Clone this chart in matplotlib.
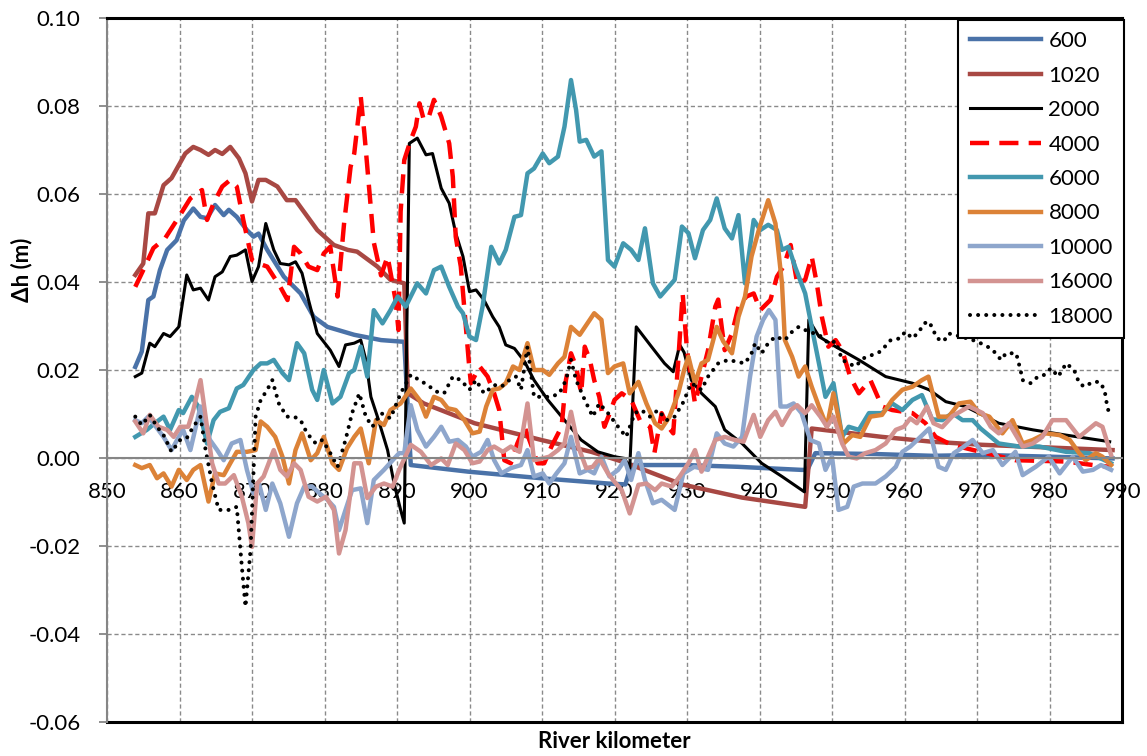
import numpy as np
import matplotlib
matplotlib.use('Agg')
import matplotlib.pyplot as plt
from matplotlib.lines import Line2D
from matplotlib.ticker import FormatStrFormatter

plt.rcParams['font.family'] = ['Lato', 'DejaVu Sans']

# discharge 600
km_600 = [853.9, 854.8, 855.7, 856.4, 857.3, 858.3, 859.6, 860.6, 861.9, 862.9, 863.8, 864.9,
          866.1, 866.8, 867.9, 869.3, 870.2, 870.9, 872.1, 874.4, 876.7, 878.5, 880.4, 884.1,
          887.8, 891.0, 891.9, 899.8, 909.9, 919.1, 921.5, 922.3, 929.7, 937.0, 945.8, 946.6,
          947.7, 956.0, 963.8, 970.7, 980.0, 988.7]
dh_600 = [0.0207, 0.0242, 0.0359, 0.0367, 0.0427, 0.0473, 0.0495, 0.0540, 0.0567, 0.0548, 0.0545, 0.0575,
          0.0552, 0.0564, 0.0548, 0.0518, 0.0503, 0.0510, 0.0473, 0.0412, 0.0374, 0.0321, 0.0298, 0.0280,
          0.0268, 0.0264, -0.0016, -0.0031, -0.0046, -0.0058, -0.0060, -0.0016, -0.0016, -0.0020, -0.0027, -0.0027,
          0.0011, 0.0009, 0.0005, 0.0007, 0.0003, -0.0001]

# discharge 1020
km_1020 = [853.9, 855.0, 855.7, 856.6, 857.8, 858.9, 860.8, 861.9, 862.9, 864.0, 864.9, 865.9,
           867.0, 868.2, 869.1, 870.0, 870.9, 871.9, 873.5, 874.8, 876.0, 879.0, 881.3, 883.2,
           884.5, 887.3, 889.1, 891.0, 891.5, 893.7, 900.7, 909.9, 916.8, 921.4, 929.3, 937.6,
           946.3, 947.2, 956.9, 963.8, 970.7, 988.7]
dh_1020 = [0.0416, 0.0442, 0.0556, 0.0556, 0.0620, 0.0636, 0.0692, 0.0707, 0.0700, 0.0689, 0.0700, 0.0691,
           0.0707, 0.0681, 0.0647, 0.0583, 0.0632, 0.0632, 0.0617, 0.0586, 0.0586, 0.0518, 0.0484, 0.0473,
           0.0469, 0.0435, 0.0405, 0.0397, 0.0147, 0.0124, 0.0079, 0.0041, 0.0014, -0.0010, -0.0060, -0.0090,
           -0.0111, 0.0067, 0.0048, 0.0037, 0.0030, 0.0018]

# discharge 2000
km_2000 = [853.9, 854.8, 855.9, 856.6, 857.8, 858.7, 859.9, 861.0, 861.9, 862.9, 864.0, 864.9,
           865.9, 867.0, 867.9, 869.1, 870.0, 870.9, 871.9, 873.0, 873.9, 875.1, 876.0, 876.9,
           877.8, 879.0, 880.8, 882.0, 882.9, 884.1, 885.0, 885.7, 886.4, 887.3, 888.7, 889.6,
           890.5, 891.0, 891.7, 892.8, 894.0, 894.9, 896.1, 897.2, 898.1, 899.1, 900.0, 900.9,
           902.0, 903.2, 904.1, 905.0, 906.2, 907.6, 908.9, 910.8, 913.1, 915.4, 917.7, 920.0,
           921.4, 922.1, 923.0, 925.1, 926.9, 928.1, 929.0, 929.6, 930.6, 932.0, 933.9, 935.2,
           937.6, 940.3, 943.1, 946.2, 946.8, 948.2, 950.5, 953.7, 957.4, 961.1, 963.4, 965.7,
           968.4, 973.0, 977.7, 982.3, 988.3]
dh_2000 = [0.0185, 0.0193, 0.0261, 0.0253, 0.0283, 0.0276, 0.0298, 0.0416, 0.0382, 0.0386, 0.0359, 0.0412,
           0.0423, 0.0458, 0.0461, 0.0473, 0.0401, 0.0435, 0.0533, 0.0473, 0.0442, 0.0439, 0.0446, 0.0420,
           0.0359, 0.0283, 0.0245, 0.0208, 0.0257, 0.0261, 0.0268, 0.0223, 0.0139, 0.0094, 0.0018, -0.0058,
           -0.0118, -0.0148, 0.0715, 0.0727, 0.0689, 0.0692, 0.0613, 0.0579, 0.0511, 0.0458, 0.0378, 0.0382,
           0.0359, 0.0321, 0.0298, 0.0257, 0.0249, 0.0219, 0.0177, 0.0132, 0.0086, 0.0041, 0.0014, 0.0003,
           -0.0001, -0.0023, 0.0298, 0.0253, 0.0215, 0.0196, 0.0257, 0.0240, 0.0177, 0.0147, 0.0117, 0.0064,
           0.0033, -0.0012, -0.0042, -0.0077, 0.0314, 0.0276, 0.0253, 0.0223, 0.0185, 0.0170, 0.0155, 0.0128,
           0.0117, 0.0079, 0.0064, 0.0052, 0.0037]

# discharge 4000
km_4000 = [853.9, 855.0, 856.4, 858.0, 859.8, 861.5, 863.1, 863.8, 864.7, 865.9, 867.0, 867.9,
           868.8, 870.0, 870.9, 872.1, 873.9, 874.9, 875.8, 876.7, 877.8, 879.0, 879.9, 880.8,
           881.8, 882.7, 883.6, 884.1, 885.0, 885.5, 885.9, 886.8, 887.8, 888.7, 889.8, 890.2,
           890.5, 891.0, 891.9, 892.6, 893.1, 893.7, 894.4, 895.1, 896.1, 897.2, 897.7, 898.1,
           898.8, 899.5, 900.0, 900.2, 901.4, 902.5, 903.4, 904.1, 904.8, 905.7, 906.6, 907.6,
           908.5, 909.4, 910.3, 911.3, 912.7, 913.3, 914.0, 914.7, 915.4, 915.9, 916.6, 917.2,
           917.9, 918.6, 919.3, 920.0, 921.0, 922.3, 923.5, 924.9, 925.5, 926.5, 927.4, 928.1,
           928.8, 929.4, 930.0, 931.1, 932.0, 932.9, 933.9, 934.3, 935.2, 936.2, 937.1, 938.2,
           939.2, 940.1, 941.5, 942.4, 943.3, 944.3, 945.2, 946.3, 947.2, 947.9, 948.6, 949.5,
           950.5, 951.4, 952.5, 953.7, 955.3, 956.9, 958.3, 961.1, 962.9, 964.3, 966.1, 967.5,
           975.3, 982.3, 986.0, 988.3]
dh_4000 = [0.0389, 0.0427, 0.0477, 0.0499, 0.0545, 0.0590, 0.0609, 0.0541, 0.0579, 0.0617, 0.0632, 0.0617,
           0.0541, 0.0450, 0.0442, 0.0435, 0.0389, 0.0359, 0.0480, 0.0465, 0.0435, 0.0427, 0.0465, 0.0480,
           0.0367, 0.0533, 0.0662, 0.0692, 0.0821, 0.0738, 0.0662, 0.0490, 0.0415, 0.0458, 0.0359, 0.0291,
           0.0560, 0.0677, 0.0723, 0.0753, 0.0806, 0.0768, 0.0776, 0.0814, 0.0776, 0.0715, 0.0639, 0.0503,
           0.0435, 0.0298, 0.0200, 0.0170, 0.0208, 0.0185, 0.0147, 0.0109, -0.0005, -0.0012, 0.0033, 0.0071,
           0.0030, -0.0012, -0.0012, 0.0026, 0.0071, 0.0177, 0.0238, 0.0208, 0.0147, 0.0253, 0.0223, 0.0177,
           0.0139, 0.0071, 0.0100, 0.0132, 0.0147, 0.0132, 0.0086, 0.0071, 0.0011, 0.0102, 0.0071, 0.0056,
           0.0223, 0.0374, 0.0245, 0.0124, 0.0185, 0.0245, 0.0344, 0.0360, 0.0245, 0.0283, 0.0344, 0.0367,
           0.0374, 0.0336, 0.0359, 0.0412, 0.0435, 0.0484, 0.0397, 0.0405, 0.0458, 0.0397, 0.0321, 0.0253,
           0.0268, 0.0245, 0.0185, 0.0147, 0.0177, 0.0117, 0.0109, 0.0102, 0.0079, 0.0048, 0.0033, 0.0026,
           -0.0005, -0.0008, -0.0016, -0.0020]

# discharge 6000
km_6000 = [853.9, 855.5, 856.6, 857.8, 858.7, 859.9, 860.5, 861.7, 862.6, 863.8, 864.7, 865.6,
           866.8, 867.9, 868.8, 870.2, 871.2, 872.1, 873.0, 874.2, 875.1, 876.2, 877.2, 878.3,
           879.0, 879.9, 881.1, 882.2, 883.4, 884.1, 885.0, 885.9, 886.8, 888.0, 889.1, 890.1,
           891.2, 892.8, 894.0, 895.1, 896.1, 897.2, 898.4, 899.1, 900.0, 900.9, 901.8, 903.0,
           904.1, 905.0, 906.2, 907.1, 908.0, 908.9, 910.1, 911.0, 912.2, 913.1, 914.0, 914.7,
           915.2, 916.1, 917.2, 918.2, 919.1, 920.0, 921.2, 922.3, 923.3, 924.2, 925.3, 926.3,
           928.3, 929.3, 930.2, 931.1, 932.2, 933.2, 934.1, 935.2, 936.2, 937.1, 938.0, 939.2,
           940.1, 941.2, 942.4, 943.1, 944.0, 944.9, 946.3, 947.2, 948.2, 949.1, 950.2, 951.4,
           952.3, 953.7, 955.1, 956.9, 958.3, 959.7, 961.1, 962.4, 963.8, 965.2, 966.6, 968.0,
           969.4, 970.5, 973.0, 975.8, 978.6, 982.3, 985.5, 988.5]
dh_6000 = [0.0048, 0.0064, 0.0079, 0.0094, 0.0064, 0.0109, 0.0102, 0.0139, 0.0117, 0.0033, 0.0086, 0.0105,
           0.0113, 0.0158, 0.0166, 0.0200, 0.0215, 0.0215, 0.0223, 0.0193, 0.0177, 0.0261, 0.0238, 0.0155,
           0.0132, 0.0200, 0.0124, 0.0139, 0.0193, 0.0200, 0.0253, 0.0185, 0.0336, 0.0306, 0.0336, 0.0367,
           0.0344, 0.0397, 0.0374, 0.0427, 0.0435, 0.0389, 0.0344, 0.0329, 0.0276, 0.0268, 0.0344, 0.0480,
           0.0442, 0.0473, 0.0548, 0.0552, 0.0647, 0.0658, 0.0692, 0.0670, 0.0685, 0.0753, 0.0859, 0.0791,
           0.0719, 0.0723, 0.0685, 0.0697, 0.0450, 0.0435, 0.0488, 0.0473, 0.0450, 0.0522, 0.0397, 0.0367,
           0.0405, 0.0526, 0.0511, 0.0454, 0.0518, 0.0541, 0.0590, 0.0522, 0.0499, 0.0552, 0.0397, 0.0541,
           0.0518, 0.0530, 0.0518, 0.0473, 0.0480, 0.0435, 0.0374, 0.0298, 0.0215, 0.0139, 0.0170, 0.0048,
           0.0071, 0.0064, 0.0102, 0.0102, 0.0124, 0.0109, 0.0132, 0.0143, 0.0088, 0.0086, 0.0102, 0.0086,
           0.0086, 0.0067, 0.0033, 0.0026, 0.0026, 0.0014, 0.0011, -0.0012]

# discharge 8000
km_8000 = [853.9, 854.8, 855.9, 856.9, 857.8, 858.9, 859.9, 861.0, 861.9, 862.9, 864.0, 864.9,
           866.1, 867.0, 867.9, 869.3, 870.5, 871.2, 872.1, 873.2, 874.2, 875.1, 876.0, 876.9,
           878.1, 879.0, 879.9, 881.1, 882.0, 883.1, 884.1, 885.0, 886.1, 887.1, 888.2, 889.1,
           890.5, 891.9, 893.1, 894.0, 895.1, 896.1, 897.0, 898.1, 899.3, 900.4, 901.4, 902.3,
           903.2, 904.1, 905.0, 906.0, 906.9, 908.0, 908.9, 910.1, 911.0, 912.2, 913.1, 914.0,
           915.2, 916.1, 917.2, 918.2, 919.1, 920.0, 921.2, 922.1, 923.3, 924.4, 925.6, 926.5,
           927.6, 928.8, 929.6, 930.2, 931.1, 932.0, 932.9, 934.1, 935.0, 936.2, 937.1, 938.0,
           938.9, 939.9, 941.2, 942.2, 943.1, 943.5, 944.5, 945.4, 946.3, 947.2, 948.2, 949.3,
           950.2, 951.6, 952.8, 953.9, 955.3, 956.9, 958.3, 959.7, 961.1, 962.4, 963.3, 964.7,
           966.1, 967.5, 969.1, 970.3, 971.7, 973.5, 974.9, 976.3, 977.7, 979.5, 981.4, 982.8,
           984.1, 985.0, 986.4, 987.3, 988.5]
dh_8000 = [-0.0016, -0.0023, -0.0016, -0.0046, -0.0035, -0.0065, -0.0027, -0.0050, -0.0027, -0.0016, -0.0099, -0.0035,
           -0.0039, -0.0012, 0.0014, 0.0014, 0.0018, 0.0083, 0.0071, 0.0048, 0.0003, -0.0058, 0.0018, 0.0056,
           -0.0005, 0.0011, 0.0048, -0.0012, -0.0027, 0.0022, 0.0048, 0.0067, -0.0012, 0.0086, 0.0075, 0.0109,
           0.0124, 0.0158, 0.0132, 0.0094, 0.0139, 0.0132, 0.0113, 0.0109, 0.0086, 0.0056, 0.0060, 0.0117,
           0.0155, 0.0158, 0.0170, 0.0208, 0.0200, 0.0261, 0.0200, 0.0200, 0.0189, 0.0215, 0.0230, 0.0298,
           0.0280, 0.0302, 0.0329, 0.0314, 0.0193, 0.0208, 0.0215, 0.0147, 0.0173, 0.0124, 0.0079, 0.0067,
           0.0094, 0.0147, 0.0200, 0.0230, 0.0170, 0.0215, 0.0223, 0.0298, 0.0265, 0.0238, 0.0321, 0.0367,
           0.0458, 0.0518, 0.0586, 0.0533, 0.0397, 0.0268, 0.0230, 0.0185, 0.0208, 0.0162, 0.0117, 0.0071,
           0.0147, 0.0033, 0.0052, 0.0048, 0.0094, 0.0098, 0.0132, 0.0155, 0.0162, 0.0177, 0.0185, 0.0094,
           0.0094, 0.0124, 0.0128, 0.0102, 0.0094, 0.0056, 0.0086, 0.0033, 0.0041, 0.0056, 0.0052, 0.0041,
           0.0011, -0.0005, 0.0011, 0.0003, -0.0016]

# discharge 10000
km_10000 = [853.9, 854.8, 855.7, 856.8, 857.8, 858.9, 859.9, 860.5, 861.5, 862.9, 864.2, 865.2,
            866.1, 867.2, 868.4, 869.3, 870.2, 871.0, 871.9, 872.8, 873.9, 875.1, 876.2, 877.2,
            878.3, 879.3, 880.4, 881.3, 882.0, 882.9, 883.8, 885.0, 885.9, 886.8, 888.2, 889.4,
            890.3, 891.0, 891.9, 892.8, 894.0, 895.1, 896.1, 897.2, 898.4, 899.5, 900.4, 901.6,
            902.5, 903.4, 904.4, 905.7, 907.1, 908.0, 908.9, 910.1, 911.0, 912.0, 913.1, 914.0,
            915.2, 916.3, 917.2, 918.2, 919.3, 920.5, 921.4, 922.3, 923.3, 924.2, 925.3, 926.5,
            928.3, 929.5, 931.0, 932.9, 934.1, 935.2, 936.4, 937.6, 938.7, 939.6, 940.5, 941.3,
            942.2, 942.9, 943.8, 944.7, 945.8, 947.0, 948.2, 949.1, 950.0, 950.9, 952.1, 953.0,
            954.2, 956.0, 957.4, 958.8, 959.7, 960.8, 962.2, 963.4, 964.7, 965.7, 966.8, 968.2,
            969.4, 970.8, 972.2, 973.5, 975.3, 976.3, 978.1, 979.9, 981.4, 983.2, 984.6, 986.0,
            987.1, 988.5]
dh_10000 = [0.0086, 0.0079, 0.0094, 0.0070, 0.0048, 0.0018, 0.0048, 0.0064, 0.0018, 0.0117, 0.0041, 0.0018,
            -0.0005, 0.0033, 0.0041, -0.0027, -0.0080, -0.0060, -0.0118, -0.0058, -0.0103, -0.0179, -0.0103, -0.0065,
            -0.0065, -0.0080, -0.0095, -0.0111, -0.0164, -0.0118, -0.0073, -0.0069, -0.0148, -0.0050, -0.0027, -0.0005,
            0.0011, 0.0011, 0.0120, 0.0064, 0.0026, 0.0048, 0.0071, 0.0037, 0.0041, 0.0026, 0.0003, 0.0014,
            0.0041, -0.0005, -0.0035, -0.0023, -0.0016, 0.0018, -0.0042, -0.0035, -0.0058, -0.0035, -0.0012, 0.0048,
            -0.0035, -0.0027, -0.0035, 0.0003, -0.0042, -0.0027, -0.0005, -0.0050, 0.0011, -0.0050, -0.0103, -0.0095,
            -0.0118, -0.0035, -0.0020, -0.0027, 0.0056, 0.0033, 0.0026, 0.0048, 0.0185, 0.0276, 0.0314, 0.0336,
            0.0314, 0.0117, 0.0117, 0.0124, 0.0102, 0.0041, 0.0033, -0.0027, 0.0003, -0.0118, -0.0111, -0.0065,
            -0.0058, -0.0058, -0.0042, -0.0020, 0.0014, 0.0026, 0.0048, 0.0067, -0.0020, -0.0027, 0.0011, 0.0026,
            0.0041, 0.0011, 0.0018, -0.0016, 0.0014, -0.0039, -0.0020, 0.0003, -0.0035, 0.0003, -0.0031, -0.0027,
            -0.0016, -0.0027]

# discharge 16000
km_16000 = [853.9, 855.0, 855.9, 857.1, 858.3, 859.2, 860.1, 861.2, 861.9, 862.9, 863.6, 864.5,
            865.4, 866.3, 867.5, 868.6, 869.5, 870.0, 870.7, 871.6, 873.0, 873.9, 874.8, 875.8,
            876.7, 877.8, 879.0, 880.2, 881.3, 882.0, 882.9, 884.1, 885.0, 885.9, 887.1, 888.2,
            889.4, 890.3, 891.9, 893.3, 894.7, 896.1, 897.0, 898.1, 899.3, 900.4, 901.4, 902.5,
            903.4, 904.6, 905.7, 906.9, 908.0, 908.9, 910.1, 911.0, 912.2, 913.1, 914.0, 915.0,
            916.1, 917.0, 917.9, 919.1, 920.0, 921.0, 922.1, 923.3, 924.4, 925.6, 926.5, 927.9,
            929.0, 930.2, 931.1, 932.0, 933.9, 935.2, 936.6, 937.8, 939.2, 940.1, 941.2, 942.2,
            943.1, 944.3, 945.2, 946.3, 947.2, 948.4, 949.3, 950.2, 951.4, 952.3, 953.4, 954.6,
            956.0, 957.4, 958.8, 959.9, 960.8, 961.7, 963.1, 964.0, 965.2, 966.6, 968.9, 970.8,
            971.9, 973.0, 974.4, 976.3, 977.7, 979.0, 980.4, 982.3, 984.1, 986.4, 987.3, 988.5]
dh_16000 = [0.0083, 0.0056, 0.0098, 0.0071, 0.0064, 0.0048, 0.0071, 0.0071, 0.0109, 0.0177, 0.0094, -0.0012,
            -0.0058, -0.0058, -0.0039, -0.0088, -0.0148, -0.0202, -0.0058, -0.0042, 0.0018, -0.0027, -0.0042, -0.0012,
            -0.0027, -0.0088, -0.0099, -0.0088, -0.0118, -0.0217, -0.0164, -0.0012, -0.0012, -0.0091, -0.0065, -0.0058,
            -0.0065, -0.0027, 0.0030, 0.0014, -0.0016, -0.0001, -0.0016, 0.0033, 0.0018, -0.0012, -0.0008, 0.0018,
            0.0026, 0.0014, 0.0026, 0.0014, 0.0124, -0.0005, -0.0001, 0.0003, 0.0018, 0.0033, 0.0105, 0.0026,
            -0.0023, -0.0020, -0.0001, -0.0035, -0.0054, -0.0073, -0.0126, -0.0061, -0.0058, -0.0073, -0.0058, -0.0065,
            -0.0042, -0.0012, 0.0018, -0.0031, 0.0041, 0.0048, 0.0041, 0.0037, 0.0098, 0.0048, 0.0086, 0.0105,
            0.0075, 0.0109, 0.0120, 0.0102, 0.0120, 0.0094, 0.0071, 0.0094, 0.0033, 0.0003, -0.0001, 0.0011,
            0.0018, 0.0033, 0.0064, 0.0071, 0.0090, 0.0079, 0.0117, 0.0079, 0.0070, 0.0095, 0.0117, 0.0102,
            0.0071, 0.0056, 0.0079, 0.0026, 0.0033, 0.0048, 0.0086, 0.0086, 0.0048, 0.0079, 0.0071, 0.0007]

# discharge 18000
km_18000 = [853.9, 854.8, 855.9, 856.9, 857.8, 858.9, 860.1, 861.0, 861.9, 862.9, 863.6, 864.5,
            865.4, 866.8, 867.9, 868.6, 869.1, 869.8, 870.5, 871.2, 872.1, 872.8, 873.7, 874.8,
            875.8, 876.7, 877.6, 878.8, 879.7, 880.8, 881.8, 882.9, 883.8, 884.8, 885.7, 886.6,
            887.8, 889.1, 890.5, 891.9, 893.1, 894.2, 895.4, 896.5, 897.7, 898.8, 900.0, 900.9,
            902.0, 903.4, 904.4, 905.5, 906.4, 907.1, 908.0, 908.9, 910.1, 911.3, 912.4, 913.3,
            914.0, 914.7, 915.9, 917.0, 917.9, 919.1, 920.5, 921.6, 922.8, 923.7, 924.9, 926.0,
            927.2, 928.3, 929.4, 930.6, 932.0, 932.9, 934.3, 935.7, 936.8, 938.0, 938.9, 939.4,
            940.3, 941.2, 942.2, 943.5, 944.5, 945.4, 946.8, 948.2, 949.5, 950.5, 951.4, 952.3,
            953.2, 954.4, 955.5, 956.7, 958.1, 959.4, 960.1, 961.1, 962.0, 962.7, 963.4, 964.5,
            965.4, 966.1, 968.0, 970.0, 971.8, 972.6, 973.3, 974.0, 975.4, 976.0, 976.3, 977.4,
            978.4, 979.3, 980.2, 981.2, 982.3, 983.4, 984.1, 984.8, 986.0, 986.9, 987.6, 987.8,
            988.3]
dh_18000 = [0.0094, 0.0075, 0.0098, 0.0071, 0.0052, 0.0014, 0.0041, 0.0045, 0.0071, 0.0094, 0.0018, -0.0058,
            -0.0118, -0.0118, -0.0111, -0.0247, -0.0338, -0.0209, 0.0094, 0.0132, 0.0155, 0.0177, 0.0124, 0.0094,
            0.0094, 0.0086, 0.0056, 0.0033, 0.0041, 0.0011, -0.0020, 0.0041, 0.0102, 0.0147, 0.0094, 0.0071,
            0.0102, 0.0090, 0.0147, 0.0189, 0.0177, 0.0166, 0.0151, 0.0147, 0.0185, 0.0177, 0.0155, 0.0177,
            0.0147, 0.0166, 0.0162, 0.0177, 0.0185, 0.0155, 0.0253, 0.0139, 0.0139, 0.0139, 0.0147, 0.0177,
            0.0223, 0.0177, 0.0132, 0.0094, 0.0124, 0.0102, 0.0071, 0.0048, 0.0102, 0.0109, 0.0094, 0.0109,
            0.0086, 0.0094, 0.0124, 0.0170, 0.0155, 0.0185, 0.0215, 0.0223, 0.0219, 0.0215, 0.0238, 0.0261,
            0.0238, 0.0261, 0.0276, 0.0268, 0.0287, 0.0298, 0.0287, 0.0280, 0.0261, 0.0265, 0.0223, 0.0215,
            0.0208, 0.0227, 0.0234, 0.0242, 0.0268, 0.0272, 0.0287, 0.0272, 0.0287, 0.0306, 0.0310, 0.0272,
            0.0265, 0.0283, 0.0275, 0.0265, 0.0250, 0.0238, 0.0223, 0.0238, 0.0238, 0.0200, 0.0177, 0.0170,
            0.0185, 0.0189, 0.0204, 0.0185, 0.0215, 0.0200, 0.0170, 0.0162, 0.0173, 0.0173, 0.0155, 0.0132,
            0.0094]

labels = ['600', '1020', '2000', '4000', '6000', '8000', '10000', '16000', '18000']

fig = plt.figure(figsize=(11.47, 7.56), dpi=100)
ax = fig.add_axes([107 / 1147, 34 / 756, 1015 / 1147, 704 / 756])

series = [
    (km_600, dh_600, dict(color='#4A72A8', lw=3.2)),
    (km_1020, dh_1020, dict(color='#A84843', lw=3.2)),
    (km_2000, dh_2000, dict(color='black', lw=2.2)),
    (km_4000, dh_4000, dict(color='#FF0000', lw=3.2, ls=(0, (4.3, 2.3)))),
    (km_6000, dh_6000, dict(color='#4298AF', lw=3.2)),
    (km_8000, dh_8000, dict(color='#DC8237', lw=3.2)),
    (km_10000, dh_10000, dict(color='#8EA6CC', lw=3.2)),
    (km_16000, dh_16000, dict(color='#D39391', lw=3.2)),
    (km_18000, dh_18000, dict(color='black', lw=2.9, ls=(0, (0.01, 2.0)), dash_capstyle='round')),
]
for (km, dh, style), name in zip(series, labels):
    ax.plot(km, dh, label=name, **style)

ax.set_xlim(850, 990)
ax.set_ylim(-0.06, 0.10)
ax.set_xticks(np.arange(850, 991, 10))
ax.set_yticks(np.round(np.arange(-0.06, 0.101, 0.02), 2))
ax.yaxis.set_major_formatter(FormatStrFormatter('%.2f'))

ax.grid(True, color='#8A8A8A', ls=(0, (3, 2)), lw=1.0)
ax.set_axisbelow(True)

ax.spines['left'].set_color('#868686')
ax.spines['left'].set_linewidth(1.5)
ax.spines['bottom'].set_position(('data', 0))
ax.spines['bottom'].set_color('#868686')
ax.spines['bottom'].set_linewidth(1.5)
for side in ['top', 'right']:
    ax.spines[side].set_color('black')
    ax.spines[side].set_linewidth(2.2)
ax.add_line(Line2D([0, 1], [0, 0], transform=ax.transAxes, color='black', lw=2.2, clip_on=False))

ax.tick_params(axis='y', direction='out', length=6, width=1.3, color='#868686', pad=13, labelsize=16)
ax.tick_params(axis='x', length=0, pad=17, labelsize=16)

ax.set_ylabel('Δh (m)', fontsize=16, fontweight='bold')
ax.yaxis.set_label_coords(-0.074, 0.642)
ax.set_xlabel('River kilometer', fontsize=16, fontweight='bold')
ax.xaxis.set_label_coords(0.5, -0.013)

leg = ax.legend(loc='upper right', bbox_to_anchor=(1.002, 0.997), fancybox=False, edgecolor='black',
                framealpha=1, fontsize=16, handlelength=3.2, handletextpad=0.35, labelspacing=0.65,
                borderpad=0.5, borderaxespad=0)
leg.get_frame().set_linewidth(1.5)

fig.savefig('out.png', dpi=100)
